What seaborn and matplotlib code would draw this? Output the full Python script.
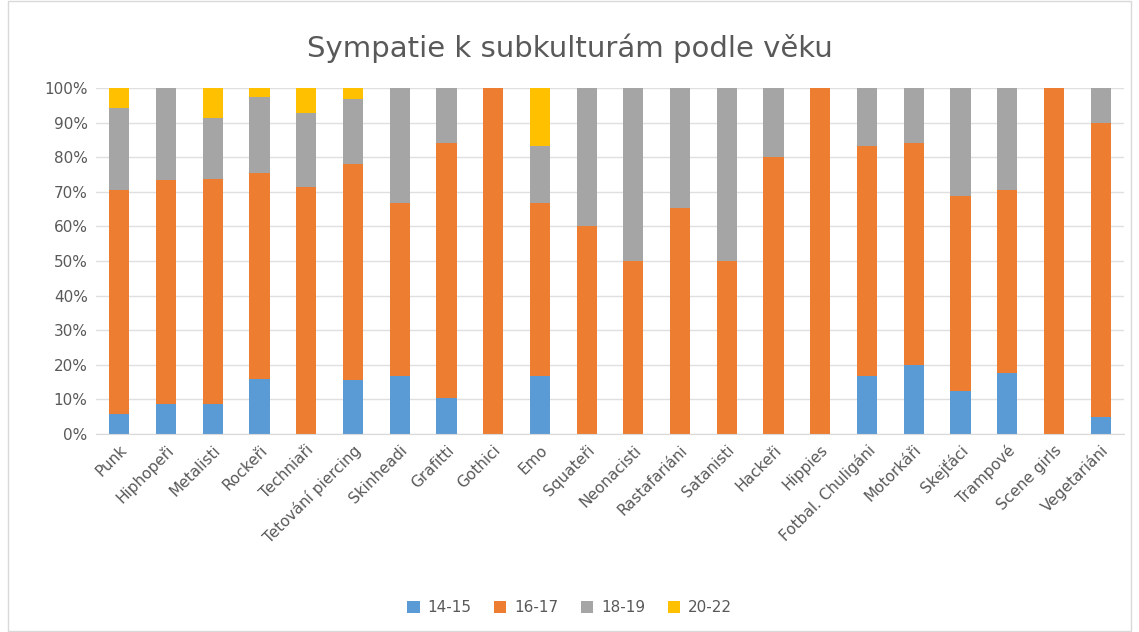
import numpy as np
import pandas as pd
import matplotlib.pyplot as plt
import seaborn as sns
from matplotlib.patches import Rectangle

categories = ['Punk', 'Hiphopeři', 'Metalisti', 'Rockeři', 'Techniaři', 'Tetování piercing',
              'Skinheadi', 'Grafitti', 'Gothici', 'Emo', 'Squateři', 'Neonacisti',
              'Rastafariáni', 'Satanisti', 'Hackeři', 'Hippies', 'Fotbal. Chuligáni',
              'Motorkáři', 'Skejťáci', 'Trampové', 'Scene girls', 'Vegetariáni']

age_14_15 = [5.9, 8.8, 8.8, 16.0, 0, 15.6, 16.7, 10.5, 0, 16.7, 0, 0,
             0, 0, 0, 0, 16.7, 20.0, 12.5, 17.6, 0, 5.0]
age_16_17 = [64.7, 64.7, 64.9, 59.5, 71.4, 62.5, 50.0, 73.7, 100, 50.0, 60.0, 50.0,
             65.2, 50.0, 80.0, 100, 66.6, 64.0, 56.25, 53.0, 100, 85.0]
age_18_19 = [23.5, 26.5, 17.5, 22.0, 21.5, 18.8, 33.3, 15.8, 0, 16.6, 40.0, 50.0,
             34.8, 50.0, 20.0, 0, 16.7, 16.0, 31.25, 29.4, 0, 10.0]
age_20_22 = [5.9, 0, 8.8, 2.5, 7.1, 3.1, 0, 0, 0, 16.7, 0, 0,
             0, 0, 0, 0, 0, 0, 0, 0, 0, 0]

series = ['14-15', '16-17', '18-19', '20-22']
colors = ['#5B9BD5', '#ED7D31', '#A5A5A5', '#FFC000']

df = pd.DataFrame({'kategorie': categories, '14-15': age_14_15, '16-17': age_16_17,
                   '18-19': age_18_19, '20-22': age_20_22})

sns.set_style('white')
fig = plt.figure(figsize=(11.39, 6.32), dpi=100)
ax = fig.add_axes([96 / 1139, 1 - 434 / 632, (1124 - 96) / 1139, (434 - 88) / 632])

# skládané sloupce
bottom = np.zeros(len(categories))
for name, col in zip(series, colors):
    sns.barplot(data=df, x='kategorie', y=name, order=categories, color=col,
                width=0.43, bottom=bottom, ax=ax, label=name, saturation=1,
                linewidth=0)
    bottom = bottom + df[name].values

ax.set_ylim(0, 100)
ax.set_xlim(-0.5, len(categories) - 0.5)
ax.set_yticks(np.arange(0, 101, 10))
ax.set_yticklabels([f'{v}%' for v in range(0, 101, 10)], fontsize=11, color='#595959')
ax.set_xticks(range(len(categories)))
ax.set_xticklabels(categories, rotation=45, ha='right', rotation_mode='anchor',
                   fontsize=11, color='#595959')
ax.tick_params(axis='both', length=0, pad=6)
ax.set_xlabel('')
ax.set_ylabel('')
ax.yaxis.grid(True, color='#E0E0E0', linewidth=1)
ax.set_axisbelow(True)
for s in ['top', 'right', 'left']:
    ax.spines[s].set_visible(False)
ax.spines['bottom'].set_color('#D9D9D9')

fig.text(0.5, 1 - 48 / 632, 'Sympatie k subkulturám podle věku', ha='center', va='center',
         fontsize=21, color='#595959')

handles, labels = ax.get_legend_handles_labels()
ax.legend(handles, labels, loc='center', ncol=4, frameon=False, fontsize=11,
          handlelength=0.8, handleheight=0.8, handletextpad=0.5, columnspacing=1.5,
          labelcolor='#595959')
ax.get_legend().set_bbox_to_anchor((0.5, 1 - 608 / 632), transform=fig.transFigure)

fig.patches.append(Rectangle((8 / 1139, 0.002), 1 - 16 / 1139, 0.996, transform=fig.transFigure,
                             fill=False, edgecolor='#D9D9D9', linewidth=1))

plt.savefig('out.png', dpi=100)
